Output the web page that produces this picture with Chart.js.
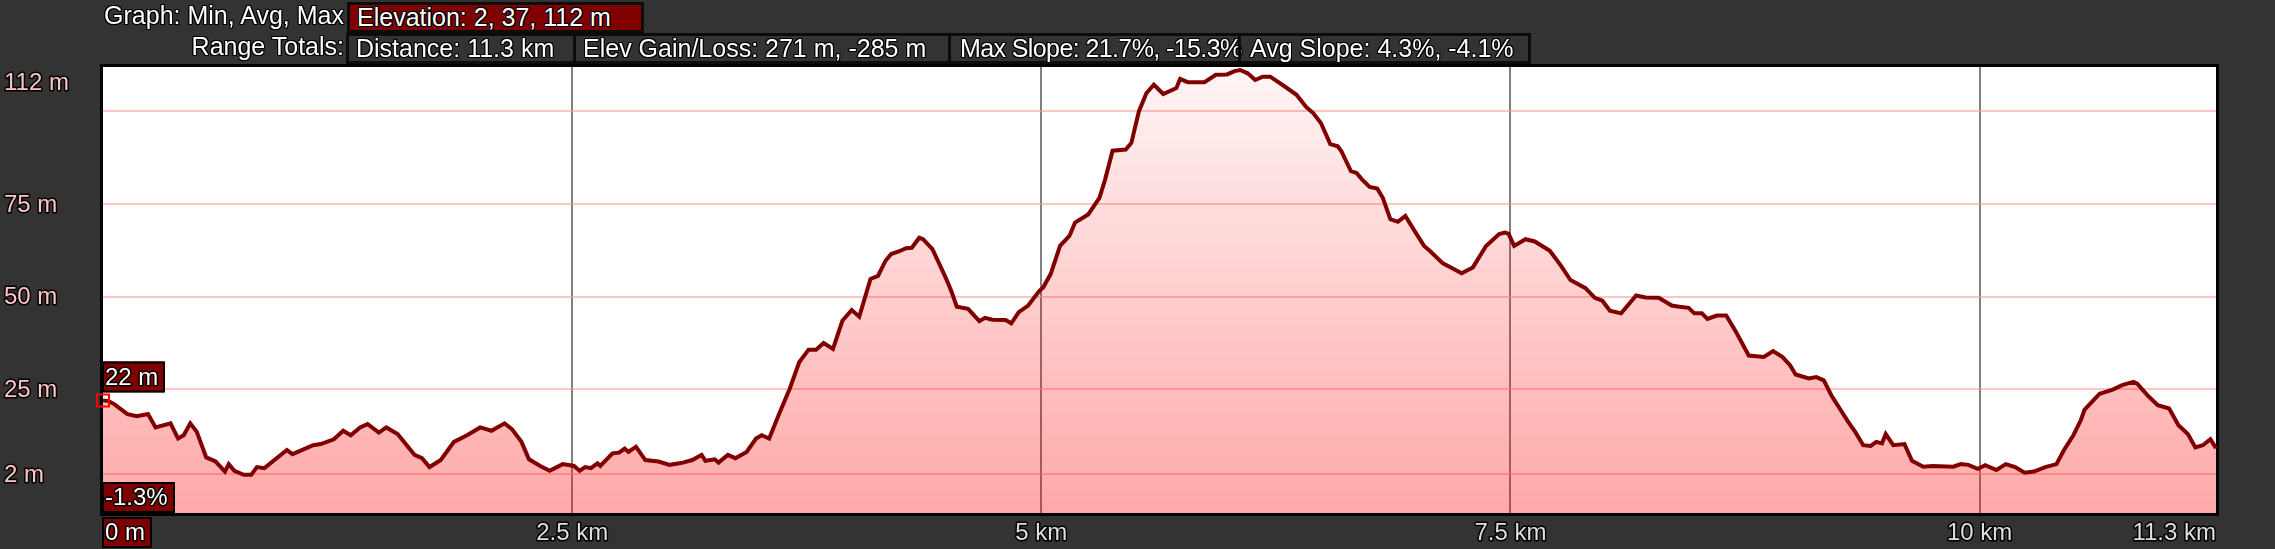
<!DOCTYPE html>
<html>
<head>
<meta charset="utf-8">
<script src="https://cdn.jsdelivr.net/npm/chart.js"></script>
<style>
  html, body { margin: 0; padding: 0; background: #333333; overflow: hidden; }
  #wrap { position: relative; width: 2275px; height: 549px; }
  #elev { position: absolute; left: 0; top: 0; }
  .hdr {
    position: absolute; box-sizing: border-box; height: 31px;
    font: 25px 'Liberation Sans', Arial, sans-serif; line-height: 25px;
    color: #ffffff; white-space: nowrap; z-index: 2;
    text-shadow: -1px -1px 0 #000, 1px -1px 0 #000, -1px 1px 0 #000, 1px 1px 0 #000,
                 0 -1px 0 #000, 0 1px 0 #000, -1px 0 0 #000, 1px 0 0 #000;
  }
  .cap { left: 0; width: 344px; text-align: right; }
  .box { border: 3px solid #0c0c0c; padding-left: 7px; }
  .red { background: #800000; }
  .tight { letter-spacing: -0.6px; padding-left: 9px; }
</style>
</head>
<body>
<div id="wrap">
  <div class="hdr cap" style="top:3px">Graph: Min, Avg, Max</div>
  <div class="hdr box red" style="left:347px;top:2px;width:297px">Elevation: 2, 37, 112 m</div>
  <div class="hdr cap" style="top:34px">Range Totals:</div>
  <div class="hdr box" style="left:346px;top:33px;width:230px">Distance: 11.3 km</div>
  <div class="hdr box" style="left:573px;top:33px;width:378px">Elev Gain/Loss: 271 m, -285 m</div>
  <div class="hdr box tight" style="left:948px;top:33px;width:293px">Max Slope: 21.7%, -15.3%</div>
  <div class="hdr box" style="left:1238px;top:33px;width:293px;padding-left:9px">Avg Slope: 4.3%, -4.1%</div>
  <canvas id="elev" width="2275" height="549"></canvas>
</div>
<script>
// distance along the track (km) and elevation (m)
const distKm = [
  0.00, 0.03, 0.06, 0.13, 0.18, 0.24, 0.28, 0.36, 0.40, 0.43, 0.465, 0.50, 0.55, 0.60, 0.65, 0.67,
  0.70, 0.75, 0.79, 0.82, 0.86, 0.98, 1.01, 1.12, 1.16, 1.23, 1.28, 1.32, 1.37, 1.41, 1.47, 1.51,
  1.57, 1.66, 1.70, 1.74, 1.80, 1.87, 1.94, 2.01, 2.07, 2.14, 2.18, 2.23, 2.27, 2.33, 2.38, 2.45,
  2.51, 2.54, 2.57, 2.60, 2.635, 2.65, 2.715, 2.75, 2.78, 2.80, 2.84, 2.89, 2.96, 3.02, 3.09, 3.14,
  3.19, 3.21, 3.26, 3.28, 3.33, 3.37, 3.43, 3.48, 3.51, 3.55, 3.60, 3.66, 3.71, 3.76, 3.80, 3.84,
  3.89, 3.94, 3.99, 4.03, 4.09, 4.13, 4.17, 4.20, 4.24, 4.28, 4.31, 4.35, 4.37, 4.42, 4.49, 4.52,
  4.55, 4.61, 4.67, 4.70, 4.74, 4.81, 4.84, 4.88, 4.93, 4.99, 5.01, 5.05, 5.10, 5.15, 5.18, 5.25,
  5.31, 5.34, 5.38, 5.45, 5.48, 5.52, 5.56, 5.60, 5.65, 5.72, 5.74, 5.78, 5.87, 5.93, 5.99, 6.03,
  6.06, 6.10, 6.14, 6.18, 6.22, 6.29, 6.36, 6.41, 6.45, 6.49, 6.54, 6.58, 6.60, 6.65, 6.68, 6.71,
  6.75, 6.79, 6.82, 6.86, 6.90, 6.94, 6.99, 7.04, 7.07, 7.14, 7.19, 7.24, 7.30, 7.37, 7.44, 7.47,
  7.49, 7.52, 7.58, 7.63, 7.71, 7.77, 7.82, 7.90, 7.95, 7.99, 8.03, 8.09, 8.17, 8.22, 8.29, 8.36,
  8.40, 8.45, 8.48, 8.52, 8.55, 8.60, 8.65, 8.70, 8.77, 8.85, 8.90, 8.95, 8.99, 9.02, 9.09, 9.13,
  9.17, 9.21, 9.30, 9.34, 9.38, 9.42, 9.45, 9.48, 9.50, 9.54, 9.60, 9.64, 9.70, 9.75, 9.86, 9.90,
  9.94, 9.99, 10.03, 10.09, 10.14, 10.19, 10.24, 10.29, 10.35, 10.41, 10.45, 10.50, 10.54, 10.56, 10.64, 10.71,
  10.76, 10.82, 10.84, 10.90, 10.95, 11.01, 11.06, 11.11, 11.15, 11.19, 11.23, 11.26
];
const elevM = [
  22.0, 21.8, 21.0, 18.3, 17.7, 18.3, 14.7, 15.8, 11.7, 12.6, 15.8, 13.5, 6.6, 5.5, 2.8, 4.8,
  3.0, 1.9, 1.9, 4.0, 3.7, 8.6, 7.5, 9.9, 10.2, 11.5, 13.8, 12.6, 14.7, 15.6, 13.3, 14.7,
  12.9, 7.3, 6.4, 4.0, 5.9, 10.8, 12.6, 14.7, 13.8, 15.8, 14.2, 10.8, 6.1, 4.3, 3.0, 4.8,
  4.3, 3.0, 4.0, 3.7, 5.0, 4.3, 7.7, 7.9, 9.0, 8.1, 9.5, 5.9, 5.5, 4.6, 5.2, 5.9,
  7.3, 5.7, 6.1, 5.2, 7.3, 6.4, 8.1, 11.7, 12.6, 11.7, 18.0, 25.2, 32.3, 35.7, 35.7, 37.5,
  35.9, 43.5, 46.4, 44.6, 54.8, 55.6, 59.7, 61.5, 62.2, 63.1, 63.2, 65.9, 65.5, 62.8, 55.2, 51.6,
  47.3, 46.7, 43.4, 44.3, 43.8, 43.7, 42.8, 45.8, 47.6, 51.6, 52.5, 56.1, 63.7, 66.4, 70.0, 72.2,
  76.7, 81.6, 89.4, 89.7, 91.5, 100.0, 104.9, 107.2, 104.7, 106.3, 108.8, 107.9, 107.9, 109.9, 110.0, 110.9,
  111.2, 110.3, 108.5, 109.4, 109.4, 107.0, 104.5, 101.3, 99.5, 96.9, 91.2, 90.6, 89.2, 83.9, 83.4, 81.6,
  79.6, 79.2, 76.7, 70.9, 70.2, 71.8, 67.7, 63.7, 62.4, 59.0, 57.7, 56.3, 57.9, 63.7, 66.9, 67.3,
  67.0, 63.7, 65.5, 64.9, 62.4, 58.3, 54.5, 52.3, 49.7, 48.9, 46.2, 45.5, 50.3, 49.8, 49.7, 47.6,
  47.3, 47.0, 45.5, 45.5, 44.0, 44.9, 44.9, 40.7, 34.1, 33.7, 35.3, 33.7, 31.5, 29.0, 27.9, 28.3,
  27.4, 23.4, 16.2, 13.3, 9.9, 9.7, 10.8, 10.4, 12.9, 9.9, 10.2, 5.7, 4.1, 4.3, 4.1, 4.8,
  4.6, 3.5, 4.5, 3.2, 4.8, 4.0, 2.5, 2.8, 4.0, 4.8, 8.6, 12.6, 16.7, 19.5, 23.8, 24.9,
  26.1, 27.0, 26.5, 23.1, 20.7, 19.8, 15.3, 12.9, 9.3, 9.9, 11.5, 9.1
];

// axis ticks
const yGridValues = [2, 25, 50, 75, 100];
const yLabelValues = [2, 25, 50, 75, 112];
const xGridValues = [2.5, 5, 7.5, 10];
const xLabelValues = [2.5, 5, 7.5, 10];
const yMin = -8.4, yMax = 112;
const startLabel = '22 m';
const startSlope = '-1.3%';
const endLabel = '11.3 km';

const FONT = "24px 'Liberation Sans', Arial, sans-serif";

function outlined(ctx, text, x, y, color, align) {
  ctx.font = FONT;
  ctx.textAlign = align;
  ctx.textBaseline = 'middle';
  ctx.lineJoin = 'round';
  ctx.lineWidth = 3;
  ctx.strokeStyle = '#000000';
  ctx.strokeText(text, x, y);
  ctx.fillStyle = color;
  ctx.fillText(text, x, y);
}

function redBox(ctx, text, x, y, h) {
  ctx.font = FONT;
  const w = Math.round(ctx.measureText(text).width) + 10;
  ctx.fillStyle = '#800000';
  ctx.fillRect(x, y, w, h);
  ctx.lineWidth = 2;
  ctx.strokeStyle = '#000000';
  ctx.strokeRect(x + 1, y + 1, w - 2, h - 2);
  outlined(ctx, text, x + 3, y + h / 2 + 1, '#ffffff', 'left');
}

const framePlugin = {
  id: 'frame',
  beforeDraw(chart) {
    const { ctx, chartArea: a } = chart;
    ctx.save();
    ctx.fillStyle = '#333333';
    ctx.fillRect(0, 0, chart.width, chart.height);
    ctx.fillStyle = '#ffffff';
    ctx.fillRect(a.left, a.top, a.right - a.left, a.bottom - a.top);
    ctx.restore();
  },
  beforeDatasetsDraw(chart) {
    const { ctx, chartArea: a } = chart;
    ctx.save();
    ctx.lineWidth = 3;
    ctx.strokeStyle = '#000000';
    ctx.strokeRect(a.left - 1.5, a.top - 1.5, a.right - a.left + 3, a.bottom - a.top + 3);
    ctx.restore();
  },
  afterDatasetsDraw(chart) {
    const { ctx, chartArea: a } = chart;
    const xs = chart.scales.x, ys = chart.scales.y;
    ctx.save();
    // y labels, kept inside the plot height
    yLabelValues.forEach(v => {
      const py = Math.max(ys.getPixelForValue(v), a.top + 15);
      outlined(ctx, v + ' m', 4, py + 1, '#ffc4c4', 'left');
    });
    // x labels
    const ly = a.bottom + 20;
    xLabelValues.forEach(v => {
      outlined(ctx, v + ' km', xs.getPixelForValue(v), ly, '#dedede', 'center');
    });
    outlined(ctx, endLabel, a.right, ly, '#dedede', 'right');
    // value boxes
    const p0 = ys.getPixelForValue(elevM[0]);
    redBox(ctx, startLabel, a.left - 1, p0 - 39, 31);
    redBox(ctx, startSlope, a.left - 1, a.bottom - 31, 31);
    redBox(ctx, '0 m', a.left - 1, a.bottom + 4, 31);
    ctx.restore();
  }
};

const points = distKm.map((d, i) => ({ x: d, y: elevM[i] }));

new Chart(document.getElementById('elev'), {
  type: 'line',
  data: {
    datasets: [{
      data: points,
      borderColor: '#800000',
      borderWidth: 4,
      tension: 0,
      fill: 'start',
      clip: false,
      backgroundColor: function(context) {
        const area = context.chart.chartArea;
        if (!area) return 'rgba(255,0,0,0.2)';
        const g = context.chart.ctx.createLinearGradient(0, area.top, 0, area.bottom);
        g.addColorStop(0, 'rgba(255,0,0,0.04)');
        g.addColorStop(1, 'rgba(255,0,0,0.34)');
        return g;
      },
      pointStyle: 'rect',
      pointRadius: ctx => ctx.dataIndex === 0 ? 8.5 : 0,
      pointBorderColor: '#ff0000',
      pointBackgroundColor: 'rgba(0,0,0,0)',
      pointBorderWidth: 2
    }]
  },
  options: {
    responsive: false,
    animation: false,
    layout: { padding: { left: 103, right: 59, top: 67, bottom: 36 } },
    plugins: { legend: { display: false }, tooltip: { enabled: false } },
    scales: {
      x: {
        type: 'linear',
        min: 0,
        max: distKm[distKm.length - 1],
        afterBuildTicks: s => { s.ticks = xGridValues.map(v => ({ value: v })); },
        ticks: { display: false },
        border: { display: false },
        grid: { color: '#808080', lineWidth: 2, drawTicks: false }
      },
      y: {
        min: yMin,
        max: yMax,
        afterBuildTicks: s => { s.ticks = yGridValues.map(v => ({ value: v })); },
        ticks: { display: false },
        border: { display: false },
        grid: { color: 'rgba(255,150,150,0.55)', lineWidth: 2, drawTicks: false }
      }
    }
  },
  plugins: [framePlugin]
});
</script>
</body>
</html>
